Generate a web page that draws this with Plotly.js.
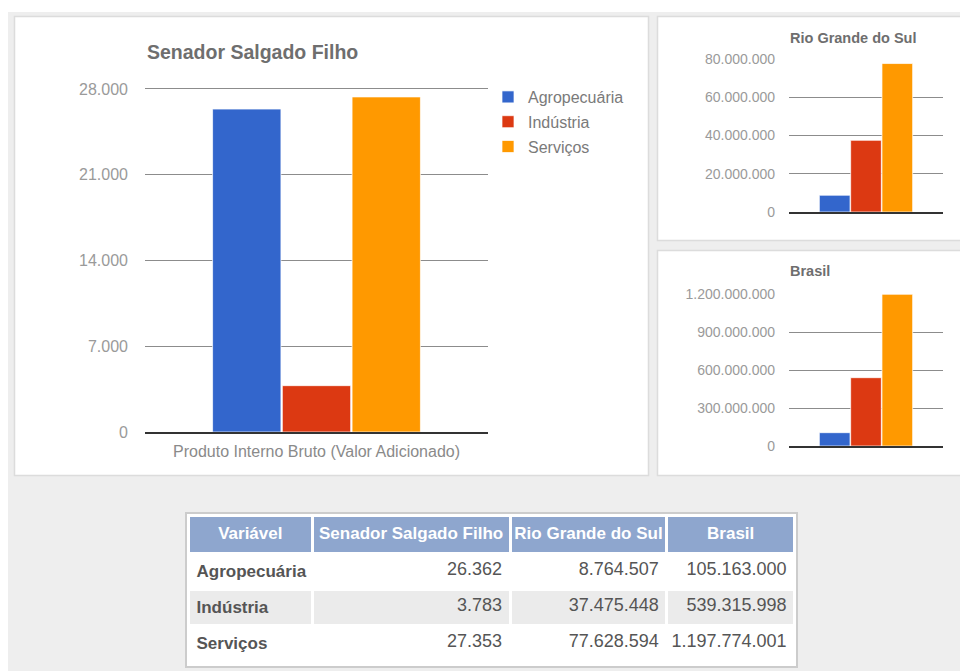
<!DOCTYPE html>
<html>
<head>
<meta charset="utf-8">
<script src="https://cdn.plot.ly/plotly-3.0.1.min.js"></script>
<style>html,body{margin:0;padding:0;background:#fff;}#chart{width:960px;height:671px;}</style>
</head>
<body>
<div id="chart"></div>
<script>
// ---- data ----
const categories = ['Agropecuária', 'Indústria', 'Serviços'];
const regions = ['Senador Salgado Filho', 'Rio Grande do Sul', 'Brasil'];
const tableHeader = ['Variável', 'Senador Salgado Filho', 'Rio Grande do Sul', 'Brasil'];
const xCategory = ['Produto Interno Bruto (Valor Adicionado)'];
const salgadoFilho = [26362, 3783, 27353];
const rioGrandeDoSul = [8764507, 37475448, 77628594];
const brasil = [105163000, 539315998, 1197774001];
const mainTicks = [0, 7000, 14000, 21000, 28000];
const rsTicks = [0, 20000000, 40000000, 60000000, 80000000];
const brTicks = [0, 300000000, 600000000, 900000000, 1200000000];

// ---- style ----
const barColors = ['#3366cc', '#dc3912', '#ff9900'];
const W = 960, H = 671;
const px = v => v / W;
const py = v => 1 - v / H;
const FONT = 'Liberation Sans, Arial, sans-serif';
const NB = s => s.replace(/ /g, '\u00a0');

function fmt(n) {
  const s = String(Math.round(n));
  return s.replace(/\B(?=(\d{3})+(?!\d))/g, '.');
}

const traces = [];
const series = [salgadoFilho, rioGrandeDoSul, brasil];
const axes = [['x', 'y'], ['x2', 'y2'], ['x3', 'y3']];
series.forEach((vals, s) => {
  categories.forEach((c, i) => {
    traces.push({
      type: 'bar',
      x: xCategory,
      y: [vals[i]],
      name: c,
      legendgroup: c,
      showlegend: s === 0,
      xaxis: axes[s][0],
      yaxis: axes[s][1],
      marker: { color: barColors[i], line: { color: 'rgba(255,255,255,0.7)', width: 1 } },
      hoverinfo: 'name+y'
    });
  });
});

const rowFill = ['#ffffff', '#ebebeb', '#ffffff'];
traces.push({
  type: 'table',
  domain: { x: [px(188.5), px(794.5)], y: [py(669), py(515.5)] },
  columnwidth: [123, 197, 156, 127],
  header: {
    values: tableHeader.map(h => '<b>' + NB(h) + '</b>'),
    align: 'center',
    height: 38,
    fill: { color: '#8ea6ce' },
    line: { color: '#ffffff', width: 3 },
    font: { family: FONT, size: 17, color: '#ffffff' }
  },
  cells: {
    values: [
      categories.map(c => '<b>' + NB(c) + '</b>'),
      salgadoFilho.map(fmt),
      rioGrandeDoSul.map(fmt),
      brasil.map(fmt)
    ],
    align: ['left', 'right', 'right', 'right'],
    height: 36,
    fill: { color: [rowFill, rowFill, rowFill, rowFill] },
    line: { color: '#ffffff', width: 3 },
    font: { family: FONT, size: [17, 18, 18, 18], color: '#555555' }
  }
});

const tickFont = { family: FONT, size: 16, color: '#9a9a9a' };
const smallTickFont = { family: FONT, size: 14, color: '#9a9a9a' };
const EPS = 0.004;
function yax(topPx, bottomPx, ticks, font, standoff, anchor) {
  const top = ticks[ticks.length - 1];
  const extraPx = (bottomPx - topPx) * EPS;
  return {
    domain: [py(bottomPx), py(topPx - extraPx)],
    anchor: anchor,
    range: [0, top * (1 + EPS)],
    tickvals: ticks,
    ticktext: ticks.map(fmt),
    showgrid: true,
    gridcolor: '#8c8c8c',
    gridwidth: 1,
    zeroline: false,
    showline: false,
    ticks: '',
    tickfont: font,
    ticklabelstandoff: standoff,
    fixedrange: true
  };
}
function xax(left, right, anchor, showLabels) {
  return {
    domain: [px(left), px(right)],
    anchor: anchor,
    type: 'category',
    showline: true,
    linecolor: '#333333',
    linewidth: 1.5,
    showgrid: false,
    ticks: '',
    showticklabels: showLabels,
    tickfont: { family: FONT, size: 16, color: '#8a8a8a' },
    ticklabelstandoff: 4,
    fixedrange: true
  };
}

const layout = {
  width: W, height: H,
  margin: { l: 0, r: 0, t: 0, b: 0 },
  paper_bgcolor: '#ffffff',
  plot_bgcolor: 'rgba(0,0,0,0)',
  separators: ',.',
  barmode: 'group',
  bargap: 0.39,
  bargroupgap: 0.02,
  font: { family: FONT },
  title: {
    text: '<b>Senador Salgado Filho</b>',
    x: px(147), xanchor: 'left', xref: 'paper',
    y: py(52), yanchor: 'middle', yref: 'paper',
    font: { family: FONT, size: 19.5, color: '#6e6e6e' }
  },
  xaxis: xax(145, 488, 'y', true),
  yaxis: yax(89, 432, mainTicks, tickFont, 16, 'x'),
  xaxis2: xax(789, 943, 'y2', false),
  yaxis2: yax(59, 212, rsTicks, smallTickFont, 13, 'x2'),
  xaxis3: xax(789, 943, 'y3', false),
  yaxis3: yax(294, 446, brTicks, smallTickFont, 13, 'x3'),
  showlegend: true,
  legend: {
    x: px(488), xanchor: 'left',
    y: py(80), yanchor: 'top',
    tracegroupgap: 1,
    bgcolor: 'rgba(0,0,0,0)',
    font: { family: FONT, size: 16, color: '#7a7a7a' }
  },
  annotations: [
    { text: '<b>Rio Grande do Sul</b>', xref: 'paper', yref: 'paper', x: px(788), y: py(38),
      xanchor: 'left', yanchor: 'middle', showarrow: false,
      font: { family: FONT, size: 14.5, color: '#6e6e6e' } },
    { text: '<b>Brasil</b>', xref: 'paper', yref: 'paper', x: px(788), y: py(271),
      xanchor: 'left', yanchor: 'middle', showarrow: false,
      font: { family: FONT, size: 14.5, color: '#6e6e6e' } }
  ],
  shapes: [
    { type: 'rect', xref: 'paper', yref: 'paper', x0: px(8), x1: px(962), y0: py(12), y1: py(673),
      fillcolor: '#eeeeee', line: { width: 0 }, layer: 'below' },
    { type: 'rect', xref: 'paper', yref: 'paper', x0: px(14.5), x1: px(648.5), y0: py(16.5), y1: py(475.5),
      fillcolor: '#ffffff', line: { color: '#dcdcdc', width: 1.5 }, layer: 'below' },
    { type: 'rect', xref: 'paper', yref: 'paper', x0: px(657.5), x1: px(965), y0: py(16.5), y1: py(240.5),
      fillcolor: '#ffffff', line: { color: '#dcdcdc', width: 1.5 }, layer: 'below' },
    { type: 'rect', xref: 'paper', yref: 'paper', x0: px(657.5), x1: px(965), y0: py(250.5), y1: py(475.5),
      fillcolor: '#ffffff', line: { color: '#dcdcdc', width: 1.5 }, layer: 'below' },
    { type: 'rect', xref: 'paper', yref: 'paper', x0: px(186), x1: px(797), y0: py(513), y1: py(667),
      fillcolor: '#ffffff', line: { color: '#cccccc', width: 2 }, layer: 'below' }
  ]
};

Plotly.newPlot('chart', traces, layout, { displayModeBar: false, staticPlot: true });
</script>
</body>
</html>
